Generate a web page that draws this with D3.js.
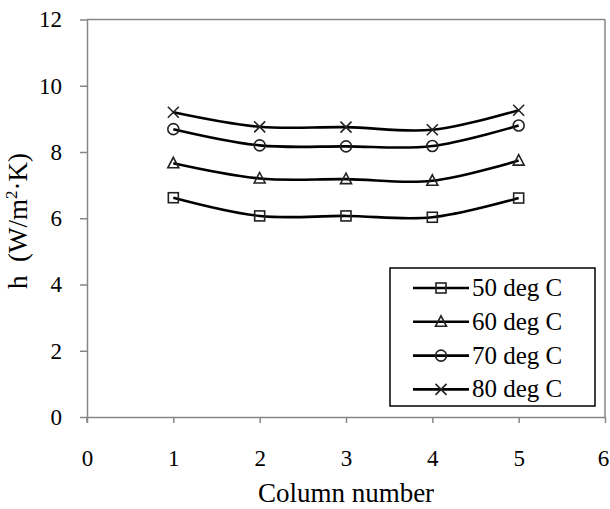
<html>
<head>
<script src="https://d3js.org/d3.v7.min.js"></script>
<style>
body { margin: 0; background: #fff; }
</style>
</head>
<body>
<div id="chart"></div>
<script>
// Data
var columns = [1, 2, 3, 4, 5];
var seriesNames = ["50 deg C", "60 deg C", "70 deg C", "80 deg C"];
var h50 = [6.62, 6.07, 6.07, 6.03, 6.61];
var h60 = [7.66, 7.20, 7.18, 7.13, 7.74];
var h70 = [8.69, 8.20, 8.17, 8.18, 8.80];
var h80 = [9.20, 8.76, 8.75, 8.67, 9.26];
var xTicks = [0, 1, 2, 3, 4, 5, 6];
var yTicks = [0, 2, 4, 6, 8, 10, 12];
var markers = ["square", "triangle", "circle", "cross"];

var allSeries = [h50, h60, h70, h80];
var serif = "Liberation Serif";

// Setup
var svg = d3.select("#chart").append("svg")
	.attr("width", 610)
	.attr("height", 509);

var x = d3.scaleLinear().domain([0, 6]).range([87, 605]);
var y = d3.scaleLinear().domain([0, 12]).range([417, 19.5]);
var axisColor = "#868686";

// plot area border (top, right)
svg.append("line")
	.attr("x1", x(0)).attr("x2", x(6))
	.attr("y1", y(12)).attr("y2", y(12))
	.attr("stroke", axisColor).attr("stroke-width", 1.5);
svg.append("line")
	.attr("x1", x(6)).attr("x2", x(6))
	.attr("y1", y(12)).attr("y2", y(0))
	.attr("stroke", axisColor).attr("stroke-width", 1.5);

// Axes
var yAxis = svg.append("g")
	.attr("transform", "translate(" + x(0) + ",0)")
	.call(d3.axisLeft(y).tickValues(yTicks).tickFormat(d3.format("d"))
		.tickSize(7).tickSizeOuter(0).tickPadding(18));
var xAxis = svg.append("g")
	.attr("transform", "translate(0," + y(0) + ")")
	.call(d3.axisBottom(x).tickValues(xTicks).tickFormat(d3.format("d"))
		.tickSize(6).tickSizeOuter(0));
[xAxis, yAxis].forEach(function(g) {
	g.select(".domain").attr("stroke", axisColor).attr("stroke-width", 1.5);
	g.selectAll(".tick line").attr("stroke", axisColor).attr("stroke-width", 1.5);
	g.selectAll(".tick text")
		.style("font-family", serif)
		.style("font-size", "23px")
		.attr("fill", "#000");
});
xAxis.selectAll(".tick text").attr("y", 49).attr("dy", 0);
xAxis.selectAll(".tick text").filter(function(d) { return d == 6; }).attr("dx", -2);
// extend y axis line below the x axis like the original
svg.append("line")
	.attr("x1", x(0)).attr("x2", x(0))
	.attr("y1", y(0)).attr("y2", y(0) + 6)
	.attr("stroke", axisColor).attr("stroke-width", 1.5);

// Marker drawing
function drawMarker(g, type, cx, cy) {
	var s = 5;
	if (type == "square") {
		g.append("rect").attr("x", cx - s).attr("y", cy - s)
			.attr("width", 2 * s).attr("height", 2 * s)
			.attr("fill", "none").attr("stroke", "#222").attr("stroke-width", 1.6);
	} else if (type == "triangle") {
		g.append("path")
			.attr("d", "M" + cx + "," + (cy - 6) + "L" + (cx + 5.5) + "," + (cy + 4.5) + "L" + (cx - 5.5) + "," + (cy + 4.5) + "Z")
			.attr("fill", "none").attr("stroke", "#222").attr("stroke-width", 1.6);
	} else if (type == "circle") {
		g.append("circle").attr("cx", cx).attr("cy", cy).attr("r", 5.5)
			.attr("fill", "none").attr("stroke", "#222").attr("stroke-width", 1.6);
	} else {
		g.append("path")
			.attr("d", "M" + (cx - 5.5) + "," + (cy - 5.5) + "L" + (cx + 5.5) + "," + (cy + 5.5) +
				"M" + (cx + 5.5) + "," + (cy - 5.5) + "L" + (cx - 5.5) + "," + (cy + 5.5))
			.attr("fill", "none").attr("stroke", "#222").attr("stroke-width", 1.6);
	}
}

// Lines
var line = d3.line()
	.x(function(d, i) { return x(columns[i]); })
	.y(function(d) { return y(d); })
	.curve(d3.curveCardinal.tension(0));

allSeries.forEach(function(vals, k) {
	svg.append("path")
		.datum(vals)
		.attr("d", line)
		.attr("fill", "none")
		.attr("stroke", "#000")
		.attr("stroke-width", 2.6);
	var g = svg.append("g");
	vals.forEach(function(v, i) {
		drawMarker(g, markers[k], x(columns[i]), y(v));
	});
});

// Legend
var legend = svg.append("g");
legend.append("rect")
	.attr("x", 390).attr("y", 268)
	.attr("width", 205).attr("height", 138)
	.attr("fill", "#fff").attr("stroke", "#000").attr("stroke-width", 1.5);
seriesNames.forEach(function(name, k) {
	var ly = 288 + k * 33.8;
	legend.append("line")
		.attr("x1", 413).attr("x2", 469)
		.attr("y1", ly).attr("y2", ly)
		.attr("stroke", "#000").attr("stroke-width", 2.6);
	drawMarker(legend, markers[k], 441, ly);
	legend.append("text")
		.attr("x", 472).attr("y", ly + 8)
		.style("font-family", serif)
		.style("font-size", "25px")
		.text(name);
});

// Axis titles
svg.append("text")
	.attr("x", x(3))
	.attr("y", 502)
	.attr("text-anchor", "middle")
	.style("font-family", serif)
	.style("font-size", "27px")
	.text("Column number");

var yt = svg.append("text")
	.attr("transform", "translate(27,221) rotate(-90)")
	.attr("text-anchor", "middle")
	.style("font-family", serif)
	.style("font-size", "27px");
yt.append("tspan").attr("xml:space", "preserve").text("h  (W/m");
yt.append("tspan").style("font-size", "17px").attr("dy", -10).text("2");
yt.append("tspan").attr("dy", 10).text("\u00b7K)");
</script>
</body>
</html>
